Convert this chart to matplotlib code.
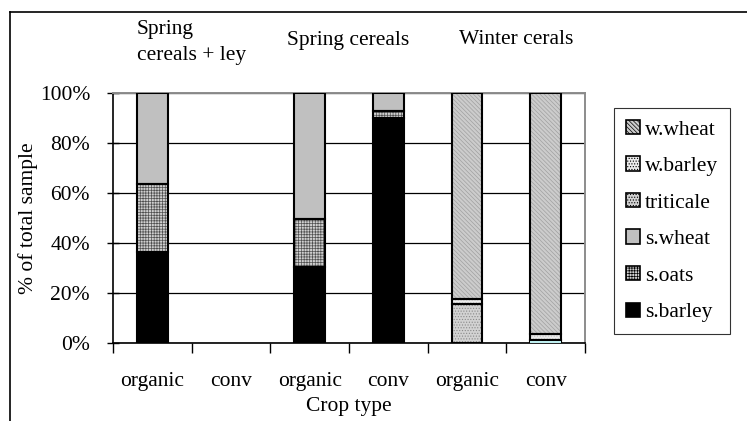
import numpy as np
import matplotlib
matplotlib.use('Agg')
import matplotlib.pyplot as plt
from matplotlib.lines import Line2D
from matplotlib.patches import Patch

plt.rcParams['font.family'] = ['Liberation Serif', 'DejaVu Serif']
plt.rcParams['hatch.linewidth'] = 0.5

categories = ['organic', 'conv', 'organic', 'conv', 'organic', 'conv']
groups = ['Spring\ncereals + ley', 'Spring cereals', 'Winter cerals']
series = ['s.barley', 's.oats', 's.wheat', 'triticale', 'w.barley', 'w.wheat']
# percent of total sample, per category
s_barley = [36.5, 0, 30.3, 90.0, 0, 0]
s_oats = [27.0, 0, 19.3, 3.0, 0, 0]
s_wheat = [36.5, 0, 50.4, 7.0, 0, 0]
triticale = [0, 0, 0, 0, 15.6, 1.2]
w_barley = [0, 0, 0, 0, 2.0, 2.6]
w_wheat = [0, 0, 0, 0, 82.4, 96.2]
values = [s_barley, s_oats, s_wheat, triticale, w_barley, w_wheat]

FS = 15.5

# face colour, hatch, hatch colour
styles = {
    's.barley': ('black', None, 'black'),
    's.oats': ('#d0d0d0', '++++++', '#505050'),
    's.wheat': ('#c0c0c0', None, '#c0c0c0'),
    'triticale': ('#d2d2d2', '......', '#8a8a8a'),
    'w.barley': ('#ececec', '......', '#c4c4c4'),
    'w.wheat': ('#cccccc', '\\\\\\\\\\\\\\\\', '#a0a0a0'),
}

fig = plt.figure(figsize=(7.47, 4.21), dpi=100)
ax = fig.add_axes([113 / 747, 1 - 343 / 421, 472 / 747, 250 / 421])

x = np.arange(len(categories))
width = 0.39
bottom = np.zeros(len(categories))
for name, vals in zip(series, values):
    vals = np.array(vals, dtype=float)
    fc, hatch, hc = styles[name]
    mask = vals > 0
    ax.bar(x[mask], vals[mask], width, bottom=bottom[mask], color=fc,
           hatch=hatch, edgecolor=hc, linewidth=0, zorder=3)
    ax.bar(x[mask], vals[mask], width, bottom=bottom[mask], fill=False,
           edgecolor='black', linewidth=1.5, zorder=4)
    bottom += vals

# light cyan sliver at the base of the conv winter bar
ax.bar([5], [0.9], width, color='#bfeff0', edgecolor='none', zorder=5)

ax.set_xlim(-0.5, len(categories) - 0.5)
ax.set_ylim(0, 100)
ax.set_yticks(np.arange(0, 101, 20))
ax.set_yticklabels([f'{v}%' for v in range(0, 101, 20)], fontsize=FS)
ax.yaxis.grid(True, color='black', linewidth=0.9, zorder=0)
ax.set_axisbelow(True)

ax.set_xticks(np.arange(-0.5, len(categories), 1))
ax.set_xticklabels([])
ax.set_xticks(x, minor=True)
ax.set_xticklabels(categories, minor=True, fontsize=FS)
ax.tick_params(axis='x', which='minor', length=0, pad=21)
ax.tick_params(axis='x', which='major', length=7, width=1, direction='out')
ax.tick_params(axis='y', length=9, width=1, direction='inout', pad=12)

for s in ['left', 'bottom']:
    ax.spines[s].set_linewidth(1.2)
    ax.spines[s].set_color('black')
for s in ['top', 'right']:
    ax.spines[s].set_linewidth(1.4)
    ax.spines[s].set_color('#8c8c8c')

ax.set_xlabel('Crop type', fontsize=FS, labelpad=4)
ax.set_ylabel('% of total sample', fontsize=FS, labelpad=1)

# group titles above the plot
fig.text(137 / 747, 1 - 42.5 / 421, groups[0], fontsize=FS, va='center',
         linespacing=1.57)
fig.text(287 / 747, 1 - 40 / 421, groups[1], fontsize=FS, va='center')
fig.text(459 / 747, 1 - 40 / 421, groups[2], fontsize=FS, va='center')

handles = []
for name in reversed(series):
    fc, hatch, hc = styles[name]
    handles.append(Patch(facecolor=fc, hatch=hatch, edgecolor='black',
                         linewidth=1.2, label=name))
leg = fig.legend(handles=handles, loc='upper left',
                 bbox_to_anchor=(614 / 747, 1 - 108 / 421), fontsize=FS,
                 frameon=True, fancybox=False, edgecolor='black',
                 handlelength=0.65, handleheight=0.65, handletextpad=0.25,
                 labelspacing=0.78, borderpad=0.55, borderaxespad=0)
leg.get_frame().set_linewidth(0.8)

# outer frame lines
fig.add_artist(Line2D([10 / 747, 1], [1 - 12 / 421, 1 - 12 / 421],
                      color='black', linewidth=1.2, transform=fig.transFigure))
fig.add_artist(Line2D([10 / 747, 10 / 747], [0, 1 - 12 / 421],
                      color='black', linewidth=1.2, transform=fig.transFigure))

fig.savefig('out.png', dpi=100)
